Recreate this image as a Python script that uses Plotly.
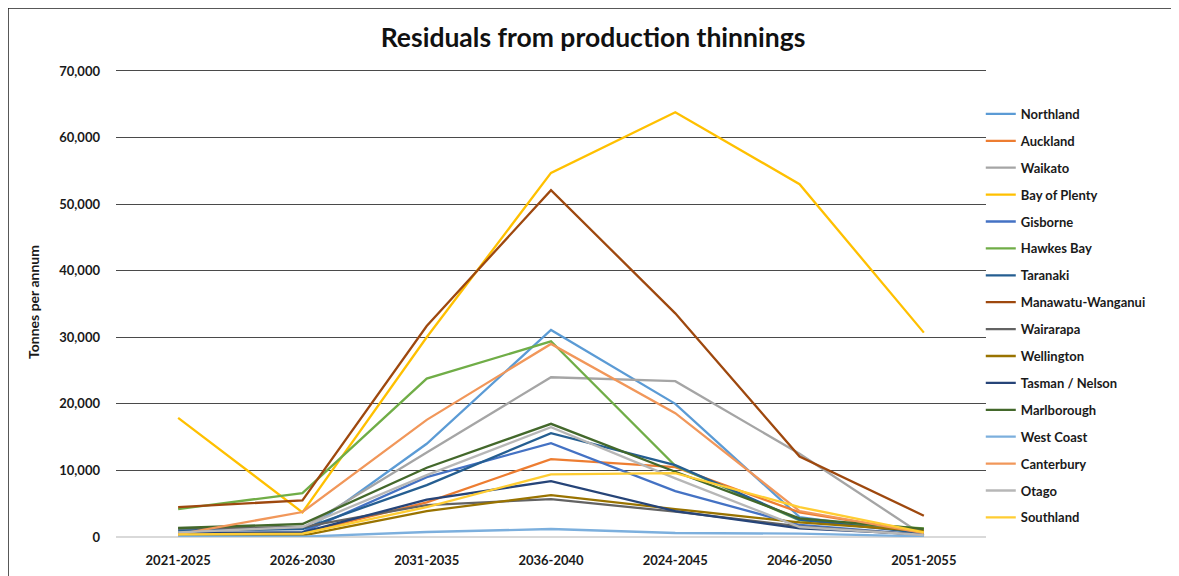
import plotly.graph_objects as go

# periodos (o rótulo "2024-2045" está assim no original)
periodos = ['2021-2025', '2026-2030', '2031-2035', '2036-2040', '2024-2045', '2046-2050', '2051-2055']

regioes = ['Northland', 'Auckland', 'Waikato', 'Bay of Plenty', 'Gisborne', 'Hawkes Bay',
           'Taranaki', 'Manawatu-Wanganui', 'Wairarapa', 'Wellington', 'Tasman / Nelson',
           'Marlborough', 'West Coast', 'Canterbury', 'Otago', 'Southland']

northland = [500, 600, 14000, 31100, 20000, 3000, 500]
auckland = [500, 600, 5200, 11700, 10500, 3700, 700]
waikato = [800, 1300, 12700, 24000, 23400, 12500, 200]
bay_of_plenty = [17900, 3700, 30000, 54700, 63800, 53000, 30700]
gisborne = [500, 700, 9000, 14100, 6900, 1800, 300]
hawkes_bay = [4200, 6600, 23800, 29400, 10700, 2500, 1300]
taranaki = [1000, 1200, 7800, 15600, 10800, 2600, 600]
manawatu = [4500, 5500, 31700, 52100, 33600, 12100, 3200]
wairarapa = [1300, 1500, 4800, 5700, 3800, 1600, 300]
wellington = [300, 200, 3900, 6300, 4200, 2200, 900]
tasman = [600, 700, 5600, 8400, 3900, 1300, 400]
marlborough = [1350, 1950, 10400, 17000, 9800, 2800, 1200]
west_coast = [100, 50, 750, 1200, 600, 500, 100]
canterbury = [400, 3750, 17600, 29000, 18600, 3900, 600]
otago = [700, 1500, 9300, 16500, 8800, 1500, 300]
southland = [400, 500, 4500, 9400, 9600, 4500, 700]

valores = [northland, auckland, waikato, bay_of_plenty, gisborne, hawkes_bay, taranaki,
           manawatu, wairarapa, wellington, tasman, marlborough, west_coast, canterbury,
           otago, southland]

cores = ['#5B9BD5', '#ED7D31', '#A5A5A5', '#FFC000', '#4472C4', '#70AD47', '#255E91',
         '#9E480E', '#636363', '#997300', '#264478', '#43682B', '#7CAFDD', '#F1975A',
         '#B7B7B7', '#FFCD33']

FONTE = 'Lato'

fig = go.Figure()
for nome, ys, cor in zip(regioes, valores, cores):
    fig.add_trace(go.Scatter(
        x=periodos, y=ys, mode='lines', name=nome, legendgroup=nome,
        line=dict(color=cor, width=2.3),
    ))

# moldura do gráfico (como no documento original)
fig.add_shape(type='rect', xref='paper', yref='paper',
              x0=(8 - 116) / 870, x1=(1200 - 116) / 870,
              y0=(537 - 600) / 470, y1=(537 - 8) / 470,
              line=dict(color='#222222', width=1.5), layer='below')

fig.update_layout(
    width=1179, height=576,
    plot_bgcolor='white', paper_bgcolor='white',
    margin=dict(l=108, r=201, t=59, b=47, autoexpand=False),
    font=dict(family=FONTE, size=13, color='#1a1a1a'),
    title=dict(text='<b>Residuals from production thinnings</b>',
               font=dict(family=FONTE, size=26.5, color='#111111'),
               x=585 / 1179, xanchor='center', y=1 - 30 / 576, yanchor='middle'),
    legend=dict(x=0.994, y=0.932, xanchor='left', yanchor='top',
                font=dict(family=FONTE, size=13, color='#1a1a1a', weight='bold'),
                tracegroupgap=7, itemwidth=30, bgcolor='rgba(0,0,0,0)'),
    showlegend=True,
)
fig.update_xaxes(
    type='category', range=[-0.5, 6.5], showgrid=False, showline=False,
    tickfont=dict(family=FONTE, size=13, color='#1a1a1a', weight='bold'),
    ticks='', ticklabelstandoff=14, automargin=False,
)
fig.update_yaxes(
    range=[0, 70600], dtick=10000, tickformat=',d',
    showgrid=True, gridcolor='#4a4a4a', gridwidth=1,
    zeroline=True, zerolinecolor='#d9d9d9', zerolinewidth=2,
    tickfont=dict(family=FONTE, size=13, color='#1a1a1a', weight='bold'),
    ticks='', ticklabelstandoff=15, automargin=False,
    title=dict(text='<b>Tonnes per annum</b>', font=dict(family=FONTE, size=14), standoff=16),
)

fig.write_html('out.html')
